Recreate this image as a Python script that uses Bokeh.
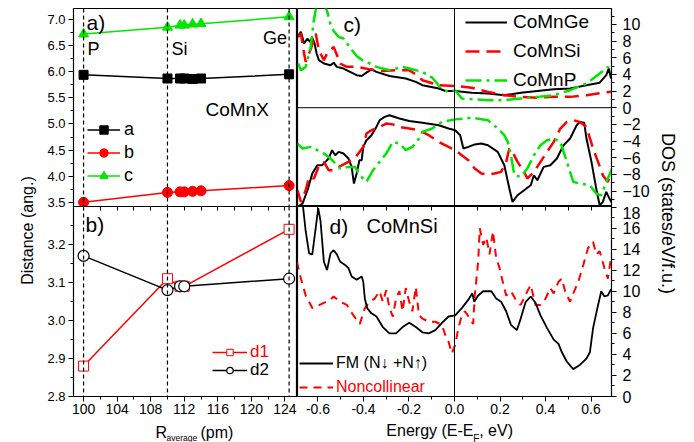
import math
from bokeh.plotting import figure
from bokeh.models import (Range1d, Span, Label, Legend, LegendItem, LinearAxis, SingleIntervalTicker,
                          FixedTicker, PrintfTickFormatter)
from bokeh.layouts import row, column
from bokeh.embed import file_html
from bokeh.resources import INLINE

FONT = "Liberation Sans"
GREEN = "#00e600"
RED = "#ff0000"

# ---------------- panel a / b data (lattice & distances) ----------------
R_avg = [100, 110, 111.5, 112, 113, 114, 124.5]
lat_a = [5.94, 5.87, 5.87, 5.87, 5.86, 5.87, 5.95]
lat_b = [3.50, 3.69, 3.70, 3.70, 3.71, 3.72, 3.82]
lat_c = [6.72, 6.85, 6.89, 6.89, 6.91, 6.92, 7.05]
R_d = [100, 110, 111.5, 112, 124.5]
d1 = [2.88, 3.11, 3.09, 3.09, 3.24]
d2 = [3.17, 3.08, 3.09, 3.09, 3.11]
elements = ["P", "Si", "Ge"]
element_R = [100, 110, 124.5]
b_ticks = [2.8, 2.9, 3.0, 3.1, 3.2]
b_minor = [2.85, 2.95, 3.05, 3.15, 3.25]
R_top_ticks = [100, 102, 104, 106, 108, 110, 112, 114, 116, 118, 120, 122, 124]
E_top_ticks = [-0.6, -0.5, -0.4, -0.3, -0.2, -0.1, 0.0, 0.1, 0.2, 0.3, 0.4, 0.5, 0.6]

# ---------------- panel c data (spin-resolved DOS) ----------------
E_ge_up = [-0.690, -0.675, -0.661, -0.646, -0.635, -0.625, -0.615, -0.606, -0.596, -0.574, -0.545, -0.531, -0.517,
           -0.488, -0.459, -0.430, -0.408, -0.387, -0.365, -0.343, -0.286, -0.214, -0.170, -0.141, -0.069, -0.040,
           0.003, 0.075, 0.147, 0.219, 0.292, 0.364, 0.436, 0.508, 0.580, 0.638, 0.667, 0.678, 0.688]
ge_up = [8.5, 9.1, 7.7, 8.3, 7.9, 8.4, 7.7, 6.5, 5.7, 5.3, 5.1, 5.4, 4.9, 4.7, 4.3, 3.9, 3.8, 4.2, 4.6, 4.3, 3.8,
         3.5, 3.1, 2.7, 2.3, 2.0, 2.0, 1.8, 1.7, 1.5, 1.8, 2.0, 2.2, 2.3, 2.7, 3.0, 3.9, 4.7, 3.5]

E_si_up = [-0.687, -0.675, -0.661, -0.654, -0.632, -0.610, -0.596, -0.574, -0.560, -0.531, -0.502, -0.473, -0.430,
           -0.372, -0.315, -0.257, -0.199, -0.170, -0.141, -0.069, 0.003, 0.075, 0.147, 0.219, 0.291, 0.364, 0.436,
           0.508, 0.580, 0.652, 0.688]
si_up = [8.5, 8.9, 6.5, 5.5, 7.0, 8.9, 6.9, 5.7, 6.5, 7.3, 5.3, 4.9, 4.9, 4.6, 4.4, 4.5, 4.5, 4.0, 3.3, 2.7, 2.6,
         2.4, 1.9, 1.5, 1.3, 1.2, 1.3, 1.3, 1.5, 1.8, 1.9]

E_p_up = [-0.687, -0.675, -0.654, -0.632, -0.618, -0.603, -0.589, -0.574, -0.560, -0.545, -0.531, -0.509, -0.488,
          -0.459, -0.430, -0.401, -0.372, -0.343, -0.286, -0.228, -0.199, -0.141, -0.098, -0.055, -0.026, 0.003,
          0.032, 0.089, 0.147, 0.219, 0.291, 0.364, 0.436, 0.508, 0.580, 0.638, 0.674, 0.688]
p_up = [5.3, 4.5, 4.9, 7.3, 10.5, 12.8, 13.0, 12.5, 11.6, 10.0, 9.2, 8.5, 8.3, 7.2, 6.2, 5.6, 5.3, 4.9, 4.5, 4.9,
        4.7, 4.3, 3.6, 2.2, 1.9, 2.1, 1.1, 1.0, 0.9, 0.9, 1.1, 1.3, 1.5, 2.1, 2.9, 4.1, 4.9, 4.3]

E_ge_dn = [-0.690, -0.668, -0.646, -0.625, -0.603, -0.582, -0.567, -0.553, -0.538, -0.524, -0.509, -0.488, -0.466,
           -0.452, -0.442, -0.430, -0.418, -0.408, -0.401, -0.387, -0.365, -0.343, -0.329, -0.307, -0.286, -0.242,
           -0.199, -0.141, -0.069, -0.026, 0.003, 0.025, 0.039, 0.061, 0.089, 0.118, 0.147, 0.190, 0.219, 0.241,
           0.255, 0.277, 0.306, 0.335, 0.349, 0.364, 0.392, 0.421, 0.450, 0.479, 0.508, 0.537, 0.551, 0.570, 0.580,
           0.602, 0.623, 0.638, 0.652, 0.667, 0.681, 0.693]
ge_dn = [-11.9, -11.5, -9.9, -7.9, -6.9, -6.9, -6.5, -6.1, -5.1, -5.7, -5.3, -5.5, -6.1, -7.1, -9.1, -7.9, -6.3,
         -6.3, -4.7, -3.9, -3.3, -2.3, -1.5, -1.1, -0.9, -1.3, -1.6, -1.8, -2.1, -2.5, -2.7, -3.3, -4.9, -4.7, -4.4,
         -4.3, -4.5, -5.3, -6.9, -9.7, -11.3, -10.5, -9.9, -9.3, -8.1, -8.7, -7.1, -6.9, -6.1, -4.5, -3.7, -2.1,
         -1.7, -1.8, -3.7, -6.5, -9.7, -11.7, -11.3, -10.1, -10.9, -11.5]

E_si_dn = [-0.690, -0.675, -0.654, -0.639, -0.618, -0.596, -0.574, -0.553, -0.531, -0.502, -0.466, -0.437, -0.401,
           -0.387, -0.365, -0.343, -0.300, -0.271, -0.242, -0.199, -0.156, -0.113, -0.069, -0.026, 0.003, 0.032,
           0.061, 0.089, 0.118, 0.147, 0.176, 0.205, 0.227, 0.241, 0.255, 0.277, 0.306, 0.320, 0.349, 0.378, 0.407,
           0.436, 0.465, 0.494, 0.522, 0.551, 0.580, 0.609, 0.631, 0.652, 0.674, 0.688]
si_dn = [-9.9, -11.3, -9.9, -8.3, -8.5, -7.0, -6.5, -7.5, -7.5, -7.0, -6.5, -6.0, -4.7, -3.1, -2.7, -2.5, -1.9,
         -2.0, -2.3, -2.5, -2.7, -3.3, -4.1, -4.7, -5.1, -5.7, -6.3, -7.3, -7.9, -8.0, -7.9, -7.7, -6.5, -4.9, -5.3,
         -6.5, -7.7, -8.5, -7.7, -6.5, -5.3, -4.1, -2.5, -1.7, -1.5, -1.7, -2.3, -4.9, -6.5, -8.1, -8.9, -7.7]

E_p_dn = [-0.690, -0.668, -0.632, -0.603, -0.574, -0.545, -0.502, -0.466, -0.437, -0.416, -0.387, -0.358, -0.329,
          -0.300, -0.271, -0.242, -0.214, -0.185, -0.156, -0.141, -0.098, -0.055, 0.003, 0.075, 0.147, 0.190, 0.219,
          0.234, 0.248, 0.263, 0.291, 0.320, 0.349, 0.378, 0.407, 0.436, 0.465, 0.494, 0.522, 0.551, 0.595, 0.623,
          0.645, 0.667, 0.693]
p_dn = [-4.3, -4.9, -4.7, -5.1, -5.5, -6.1, -7.3, -7.1, -7.1, -8.1, -8.9, -7.5, -6.5, -5.5, -4.1, -4.3, -5.1, -4.7,
        -3.7, -2.9, -2.5, -1.7, -1.4, -1.2, -1.5, -2.5, -3.3, -4.1, -5.7, -8.1, -8.3, -7.3, -5.7, -4.5, -3.9, -3.7,
        -4.1, -6.5, -8.9, -9.1, -9.3, -10.3, -10.5, -8.9, -7.3]

# ---------------- panel d data (CoMnSi total DOS) ----------------
E_fm = [-0.668, -0.654, -0.639, -0.625, -0.610, -0.599, -0.589, -0.574, -0.560, -0.545, -0.531, -0.517, -0.502,
        -0.481, -0.466, -0.452, -0.430, -0.408, -0.401, -0.394, -0.384, -0.365, -0.343, -0.315, -0.286, -0.257,
        -0.228, -0.199, -0.170, -0.141, -0.113, -0.084, -0.055, -0.026, 0.003, 0.032, 0.061, 0.078, 0.087, 0.104,
        0.126, 0.162, 0.183, 0.205, 0.227, 0.248, 0.274, 0.291, 0.313, 0.335, 0.356, 0.378, 0.407, 0.436, 0.457,
        0.472, 0.494, 0.522, 0.551, 0.580, 0.595, 0.609, 0.631, 0.645, 0.659, 0.674, 0.688]
fm = [18.5, 15.7, 13.6, 13.5, 16.0, 17.9, 16.7, 12.8, 12.0, 13.6, 13.9, 13.5, 12.8, 12.5, 12.2, 11.4, 11.1, 11.4,
      10.9, 9.3, 8.4, 7.9, 7.6, 6.6, 6.0, 6.0, 6.6, 7.0, 6.6, 6.1, 6.0, 6.3, 7.0, 7.6, 7.7, 8.4, 9.2, 9.8, 9.0, 9.6,
      10.0, 10.0, 9.3, 9.0, 8.1, 6.8, 6.3, 7.4, 9.0, 9.5, 8.9, 7.7, 6.5, 5.4, 5.0, 4.2, 3.3, 2.6, 3.0, 3.6, 4.2,
      6.5, 8.7, 10.0, 9.5, 9.6, 10.2]

E_nc = [-0.693, -0.675, -0.654, -0.625, -0.603, -0.574, -0.545, -0.531, -0.502, -0.473, -0.444, -0.416, -0.394,
        -0.372, -0.351, -0.329, -0.315, -0.300, -0.286, -0.271, -0.257, -0.242, -0.228, -0.214, -0.199, -0.185,
        -0.170, -0.156, -0.141, -0.113, -0.084, -0.055, -0.040, -0.026, -0.012, 0.003, 0.017, 0.032, 0.046, 0.068,
        0.082, 0.089, 0.104, 0.111, 0.126, 0.140, 0.154, 0.169, 0.183, 0.198, 0.212, 0.227, 0.248, 0.277, 0.291,
        0.320, 0.335, 0.356, 0.378, 0.400, 0.421, 0.436, 0.457, 0.472, 0.486, 0.508, 0.522, 0.544, 0.566, 0.587,
        0.609, 0.623, 0.638, 0.659, 0.674, 0.688]
nc = [12.8, 11.2, 9.6, 8.4, 8.6, 8.9, 9.2, 9.5, 9.0, 8.7, 7.7, 6.9, 8.4, 9.0, 9.3, 10.0, 9.0, 10.1, 8.4, 7.6, 9.3,
      10.0, 8.1, 10.3, 9.0, 8.1, 10.4, 7.7, 7.4, 7.1, 7.1, 6.8, 5.8, 5.2, 4.1, 4.9, 6.5, 7.7, 8.1, 7.4, 6.9, 9.6,
      12.8, 16.0, 14.4, 15.1, 13.5, 15.7, 13.2, 12.2, 10.9, 9.6, 10.0, 8.9, 8.7, 10.0, 10.6, 8.7, 8.7, 9.3, 10.3,
      9.8, 10.9, 11.2, 10.0, 9.0, 9.8, 10.9, 12.5, 14.1, 14.7, 13.5, 13.8, 12.2, 11.2, 13.2]


def base_fig(w, h, xr, yr, **kw):
    p = figure(width=w, height=h, x_range=xr, y_range=yr, toolbar_location=None, title=None,
               output_backend="svg", **kw)
    p.grid.visible = False
    p.outline_line_color = "black"
    p.outline_line_width = 1.2
    p.background_fill_color = "white"
    p.border_fill_color = "white"
    return p


def strip(w, h, x0, x1, left=0, right=0):
    # the frame of a strip spans page pixels x0..x1, so label x values are page positions
    p = figure(width=w, height=h, x_range=Range1d(x0, x1), y_range=Range1d(0, h),
               x_axis_location=None, y_axis_location=None, toolbar_location=None, title=None,
               output_backend="svg", min_border_left=left, min_border_right=right,
               min_border_top=0, min_border_bottom=0)
    p.grid.visible = False
    p.outline_line_color = None
    return p


def style_axis(ax, size, standoff=3):
    ax.major_tick_in = 0
    ax.major_tick_out = 5
    ax.minor_tick_in = 0
    ax.minor_tick_out = 3
    ax.major_label_text_font = FONT
    ax.major_label_text_font_size = size
    ax.major_label_text_color = "black"
    ax.axis_line_color = "black"
    ax.major_tick_line_color = "black"
    ax.minor_tick_line_color = "black"
    ax.major_label_standoff = standoff


def inner_axis(minor_ticks):
    return LinearAxis(ticker=FixedTicker(ticks=[], minor_ticks=minor_ticks),
                      major_tick_in=0, major_tick_out=0, minor_tick_in=4, minor_tick_out=0,
                      major_label_standoff=0, axis_line_color=None, minor_tick_line_color="black")


def txt(p, text, x, y, size, xu="screen", yu="screen", align="left", base="top", color="black", **kw):
    p.add_layout(Label(x=x, y=y, x_units=xu, y_units=yu, text=text, text_font=FONT,
                       text_font_size=size, text_align=align, text_baseline=base,
                       text_color=color, **kw))


def legend(items, loc, size, gw, gh, spacing, standoff, color="black"):
    return Legend(items=items, location=loc, glyph_width=gw, glyph_height=gh, label_height=gh,
                  label_standoff=standoff, spacing=spacing, padding=0, margin=0,
                  border_line_alpha=0, background_fill_alpha=0, label_text_font=FONT,
                  label_text_font_size=size, label_text_color=color)


xr_left = Range1d(98.8, 125.5)

# ---------------- panel a ----------------
pa = base_fig(257, 211, xr_left, Range1d(3.42, 7.21), x_axis_location=None,
              min_border_left=33, min_border_right=0, min_border_top=8, min_border_bottom=5)
pa.yaxis.ticker = SingleIntervalTicker(interval=0.5, num_minor_ticks=2)
pa.yaxis.formatter = PrintfTickFormatter(format="%.1f")
style_axis(pa.yaxis[0], "13px")
for r in element_R:
    pa.add_layout(Span(location=r, dimension="height", line_color="black", line_dash="4 3", line_width=1.2))
ra_l = pa.line(R_avg, lat_a, line_color="black", line_width=1.5)
ra_m = pa.scatter(R_avg, lat_a, marker="square", size=9, color="black")
rb_l = pa.line(R_avg, lat_b, line_color=RED, line_width=1.5)
rb_m = pa.scatter(R_avg, lat_b, marker="circle", size=10, color=RED)
rc_l = pa.line(R_avg, lat_c, line_color=GREEN, line_width=1.5)
rc_m = pa.scatter(R_avg, lat_c, marker="triangle", size=10, color=GREEN)
pa.add_layout(legend([LegendItem(label="a", renderers=[ra_l, ra_m]),
                      LegendItem(label="b", renderers=[rb_l, rb_m]),
                      LegendItem(label="c", renderers=[rc_l, rc_m])],
                     (14, 20), "18px", 33, 21, 2, 4))
txt(pa, "a)", 13, 196, "21px")
txt(pa, "CoMnX", 132, 108, "19px")
txt(pa, elements[0], element_R[0], 168, "18px", xu="data", x_offset=4)
txt(pa, elements[1], element_R[1], 168, "18px", xu="data", x_offset=4)
txt(pa, elements[2], element_R[2], 179, "18px", xu="data", x_offset=-2, align="right")

# ---------------- panel b ----------------
pb = base_fig(257, 212, xr_left, Range1d(2.8, 3.3),
              min_border_left=33, min_border_right=0, min_border_top=0, min_border_bottom=22)
pb.margin = (-5, 0, 0, 0)
pb.border_fill_alpha = 0
pb.xaxis.ticker = SingleIntervalTicker(interval=4, num_minor_ticks=2)
pb.yaxis.ticker = FixedTicker(ticks=b_ticks, minor_ticks=b_minor)
pb.yaxis.formatter = PrintfTickFormatter(format="%.1f")
style_axis(pb.xaxis[0], "14px", 2)
style_axis(pb.yaxis[0], "13px")
pb.add_layout(inner_axis(R_top_ticks), "above")
for r in element_R:
    pb.add_layout(Span(location=r, dimension="height", line_color="black", line_dash="4 3", line_width=1.2))
r1_l = pb.line(R_d, d1, line_color=RED, line_width=1.5)
r2_l = pb.line(R_d, d2, line_color="black", line_width=1.5)
r1_m = pb.scatter(R_d, d1, marker="square", size=10, fill_color="white", line_color=RED, line_width=1)
r2_m = pb.scatter(R_d, d2, marker="circle", size=11, fill_color="white", line_color="black", line_width=1.2)
pb.add_layout(legend([LegendItem(label="d1", renderers=[r1_l, r1_m])], (139, 34), "17px", 35, 16, 0, 3, RED))
pb.add_layout(legend([LegendItem(label="d2", renderers=[r2_l, r2_m])], (139, 16), "17px", 35, 16, 0, 3))
txt(pb, "b)", 12, 184, "21px")

sb = strip(257, 24, 73, 297, left=33)
txt(sb, "R", 155, 19, "16px", xu="data", yu="data")
txt(sb, "average", 166, 9.5, "8.5px", xu="data", yu="data")
txt(sb, "(pm)", 200, 19, "16px", xu="data", yu="data")

# ---------------- panel c ----------------
xr_right = Range1d(-0.69, 0.69)
pc = base_fig(355, 206, xr_right, Range1d(-11.85, 11.9), x_axis_location=None, y_axis_location="right",
              min_border_left=0, min_border_right=37, min_border_top=8, min_border_bottom=0)
pc.yaxis.ticker = SingleIntervalTicker(interval=2, num_minor_ticks=2)
style_axis(pc.yaxis[0], "16px", 6)
pc.add_layout(Span(location=0, dimension="height", line_color="black", line_width=1))
pc.add_layout(Span(location=0, dimension="width", line_color="black", line_width=1))
c_ge = pc.line(E_ge_up, ge_up, line_color="black", line_width=2)
pc.line(E_ge_dn, ge_dn, line_color="black", line_width=2)
c_si = pc.line(E_si_up, si_up, line_color=RED, line_width=2.5, line_dash="14 7")
pc.line(E_si_dn, si_dn, line_color=RED, line_width=2.5, line_dash="14 7")
c_p = pc.line(E_p_up, p_up, line_color=GREEN, line_width=2.5, line_dash="16 5 3 5")
pc.line(E_p_dn, p_dn, line_color=GREEN, line_width=2.5, line_dash="16 5 3 5")
pc.add_layout(legend([LegendItem(label="CoMnGe", renderers=[c_ge]),
                      LegendItem(label="CoMnSi", renderers=[c_si]),
                      LegendItem(label="CoMnP", renderers=[c_p])],
                     (168, 114), "19px", 42, 24, 5, 6))
txt(pc, "c)", 46, 194, "21px")

# ---------------- panel d ----------------
pd_ = base_fig(355, 212, xr_right, Range1d(0, 18.05), y_axis_location="right",
               min_border_left=0, min_border_right=37, min_border_top=0, min_border_bottom=22)
pd_.xaxis.ticker = SingleIntervalTicker(interval=0.2, num_minor_ticks=2)
pd_.xaxis.formatter = PrintfTickFormatter(format="%.1f")
pd_.yaxis.ticker = SingleIntervalTicker(interval=2, num_minor_ticks=2)
style_axis(pd_.xaxis[0], "14px", 2)
style_axis(pd_.yaxis[0], "16px", 6)
pd_.add_layout(inner_axis(E_top_ticks), "above")
pd_.add_layout(Span(location=0, dimension="height", line_color="black", line_width=1))
d_nc = pd_.line(E_nc, nc, line_color=RED, line_width=2, line_dash="8 6")
d_fm = pd_.line(E_fm, fm, line_color="black", line_width=1.8)
pd_.add_layout(legend([LegendItem(label="FM (N\u2193 +N\u2191)", renderers=[d_fm])], (2, 24), "16px", 34, 18, 0, 3))
pd_.add_layout(legend([LegendItem(label="Noncollinear", renderers=[d_nc])], (2, 0), "16px", 34, 18, 0, 3, RED))
txt(pd_, "d)", 32, 182, "21px")
txt(pd_, "CoMnSi", 69, 182, "20px")

sd = strip(355, 24, 297, 615, right=37)
txt(sd, "Energy (E-E", 387, 21, "16px", xu="data", yu="data")
txt(sd, "F", 475, 10, "10px", xu="data", yu="data")
txt(sd, ", eV)", 481, 21, "16px", xu="data", yu="data")

# ---------------- side label strips ----------------
pl = strip(40, 442, 0, 40)
txt(pl, "Distance (ang.)", 27, 212, "16px", xu="data", yu="data", align="center", base="middle",
    angle=math.pi / 2)

pr = strip(42, 442, 0, 42)
txt(pr, "DOS (states/eV/f.u.)", 15, 229, "18px", xu="data", yu="data", align="center", base="middle",
    angle=-math.pi / 2)

layout = row(pl, column(pa, pb, sb), column(pc, pd_, sd), pr)
open("out.html", "w").write(file_html(layout, INLINE))
